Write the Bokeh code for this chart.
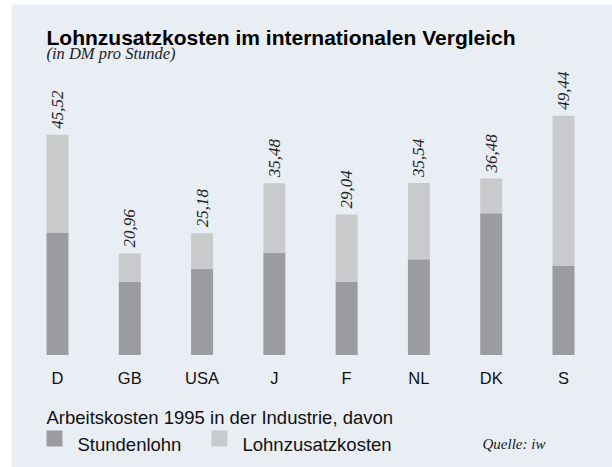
import numpy as np
from bokeh.plotting import figure
from bokeh.models import Range1d, ColumnDataSource
from bokeh.core.properties import value
from bokeh.embed import file_html
from bokeh.resources import INLINE

# ---- data ----
countries = ["D", "GB", "USA", "J", "F", "NL", "DK", "S"]
stundenlohn = [25.3, 15.1, 17.8, 21.1, 15.1, 19.8, 29.3, 18.4]
gesamt = [45.52, 20.96, 25.18, 35.48, 29.04, 35.54, 36.48, 49.44]
gesamt_labels = ["45,52", "20,96", "25,18", "35,48", "29,04", "35,54", "36,48", "49,44"]

title_text = "Lohnzusatzkosten im internationalen Vergleich"
subtitle_text = "(in DM pro Stunde)"
legend_heading = "Arbeitskosten 1995 in der Industrie, davon"
series_names = ["Stundenlohn", "Lohnzusatzkosten"]
source_text = "Quelle: iw"

# ---- style ----
BG = "#e9edf4"
DARK = "#9b9c9f"
LIGHT = "#c9cacc"
SANS = "Liberation Sans"
SERIF = "Liberation Serif"
W, H = 612, 467

slot = list(range(len(countries)))

src = ColumnDataSource(dict(
    x=slot,
    name=countries,
    s=stundenlohn,
    g=gesamt,
    lab=gesamt_labels,
))

p = figure(width=W, height=H, x_range=Range1d(0, W), y_range=Range1d(H, 0),
           x_axis_location=None, y_axis_location=None,
           output_backend="svg", toolbar_location=None, min_border=0)
p.grid.visible = False
p.outline_line_color = None
p.background_fill_color = "white"
p.border_fill_color = "white"

p.extra_x_ranges = {"cat": Range1d(-0.7885, len(countries) - 1 + 0.678)}
p.extra_y_ranges = {"val": Range1d(-23.24, 73.25)}

# panel background
p.quad(left=[11], right=[W], top=[4], bottom=[H], fill_color=BG, line_color=None)

# bars
p.vbar(x="x", bottom=0, top="s", width=0.304, source=src, fill_color=DARK,
       line_color=None, x_range_name="cat", y_range_name="val")
p.vbar(x="x", bottom="s", top="g", width=0.304, source=src, fill_color=LIGHT,
       line_color=None, x_range_name="cat", y_range_name="val")

# value labels
p.text(x="x", y="g", text="lab", source=src, angle=np.pi / 2, y_offset=-6,
       text_align="left", text_baseline="middle",
       text_font=value(SERIF), text_font_style="italic", text_font_size="17px",
       text_color="#222222", x_range_name="cat", y_range_name="val")

# category labels
p.text(x="x", y=377, text="name", source=src,
       text_align="center", text_baseline="middle",
       text_font=value(SANS), text_font_size="16.5px", text_color="#111111",
       x_range_name="cat")

# title / subtitle
p.text(x=[46], y=[37], text=[title_text], text_font=value(SANS),
       text_font_style="bold", text_font_size="21px", text_color="#000000",
       text_baseline="alphabetic", text_align="left")
p.text(x=[46], y=[53], text=[subtitle_text], text_font=value(SERIF),
       text_font_style="italic", text_font_size="16.5px", text_color="#222222",
       text_baseline="alphabetic", text_align="left")

# legend
p.text(x=[46], y=[417], text=[legend_heading], text_font=value(SANS),
       text_font_size="18.5px", text_color="#111111",
       text_baseline="alphabetic", text_align="left")
p.quad(left=[46, 211], right=[62, 227], top=[430, 430], bottom=[446, 446],
       fill_color=[DARK, LIGHT], line_color=None)
p.text(x=[77, 242], y=[444, 444], text=series_names, text_font=value(SANS),
       text_font_size="18.5px", text_color="#111111",
       text_baseline="alphabetic", text_align="left")
p.text(x=[482], y=[443], text=[source_text], text_font=value(SERIF),
       text_font_style="italic", text_font_size="15px", text_color="#222222",
       text_baseline="alphabetic", text_align="left")

open("out.html", "w").write(file_html(p, INLINE))
